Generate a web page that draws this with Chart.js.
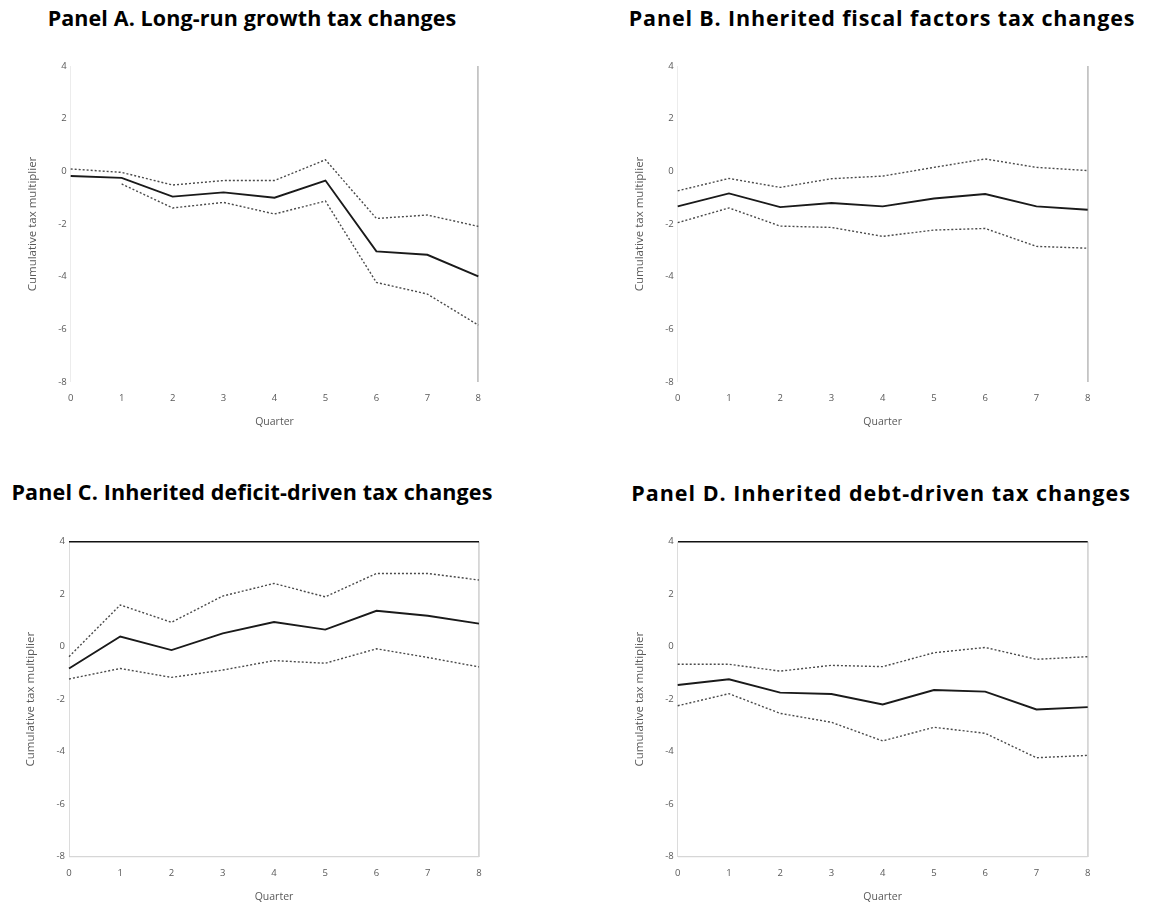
<!DOCTYPE html>
<html>
<head>
<meta charset="utf-8">
<script src="https://cdn.jsdelivr.net/npm/chart.js@4/dist/chart.umd.min.js"></script>
<style>
  body { margin: 0; background: #fff; width: 1162px; height: 907px; position: relative; overflow: hidden; }
  .ttl { position: absolute; font-family: "Open Sans", sans-serif; font-weight: 700; font-size: 21.5px; line-height: normal; color: #000; white-space: nowrap; transform: translateX(-50%); }
  canvas { position: absolute; }
</style>
</head>
<body>
<div class="ttl" style="left:252px; top:3px; letter-spacing:0.1px;">Panel A. Long-run growth tax changes</div>
<div class="ttl" style="left:882px; top:3px; letter-spacing:0.85px;">Panel B. Inherited fiscal factors tax changes</div>
<div class="ttl" style="left:252px; top:477px; letter-spacing:0.15px;">Panel C. Inherited deficit-driven tax changes</div>
<div class="ttl" style="left:881px; top:478px; letter-spacing:1px;">Panel D. Inherited debt-driven tax changes</div>

<div style="position:absolute;left:0;top:40px;width:581px;height:400px;"><canvas id="panel-a"></canvas></div>
<div style="position:absolute;left:581px;top:40px;width:581px;height:400px;"><canvas id="panel-b"></canvas></div>
<div style="position:absolute;left:0;top:510px;width:581px;height:397px;"><canvas id="panel-c"></canvas></div>
<div style="position:absolute;left:581px;top:510px;width:581px;height:397px;"><canvas id="panel-d"></canvas></div>

<script>
const quarters = ['0', '1', '2', '3', '4', '5', '6', '7', '8'];
const yTicks = [4, 2, 0, -2, -4, -6, -8];

// Panel A. Long-run growth
const aMid = [-0.18, -0.25, -0.96, -0.80, -1.00, -0.35, -3.04, -3.17, -3.99];
const aUpper = [0.09, -0.04, -0.52, -0.35, -0.35, 0.44, -1.79, -1.66, -2.09];
const aLower = [null, -0.48, -1.39, -1.18, -1.62, -1.13, -4.22, -4.66, -5.84];

// Panel B. Inherited fiscal factors
const bMid = [-1.33, -0.84, -1.36, -1.20, -1.33, -1.03, -0.86, -1.33, -1.46];
const bUpper = [-0.74, -0.27, -0.61, -0.28, -0.18, 0.15, 0.47, 0.15, 0.03];
const bLower = [-1.95, -1.39, -2.08, -2.13, -2.47, -2.23, -2.17, -2.85, -2.92];

// Panel C. Inherited deficit-driven
const cMid = [-0.83, 0.39, -0.13, 0.51, 0.94, 0.65, 1.37, 1.18, 0.88];
const cUpper = [-0.38, 1.59, 0.93, 1.93, 2.41, 1.90, 2.79, 2.79, 2.54];
const cLower = [-1.23, -0.83, -1.17, -0.89, -0.53, -0.63, -0.08, -0.41, -0.77];

// Panel D. Inherited debt-driven
const dMid = [-1.46, -1.24, -1.75, -1.80, -2.20, -1.65, -1.71, -2.39, -2.30];
const dUpper = [-0.67, -0.67, -0.93, -0.71, -0.76, -0.23, -0.03, -0.48, -0.38];
const dLower = [-2.25, -1.79, -2.54, -2.88, -3.59, -3.07, -3.30, -4.23, -4.14];

class Main {
    constructor() {
        // plot area in canvas coords (l, r, t, b), canvas size (w, h), Quarter title gap (q)
        this.drawPanel('panel-a', aMid, aUpper, aLower, false, {l: 70.7, r: 478.3, t: 26, b: 342, w: 581, h: 400, q: 12});
        this.drawPanel('panel-b', bMid, bUpper, bLower, false, {l: 96.7, r: 506.7, t: 26, b: 342, w: 581, h: 400, q: 12});
        this.drawPanel('panel-c', cMid, cUpper, cLower, true, {l: 69, r: 479, t: 31.7, b: 346.7, w: 581, h: 397, q: 3.5});
        this.drawPanel('panel-d', dMid, dUpper, dLower, true, {l: 96.7, r: 506.7, t: 31.7, b: 346.7, w: 581, h: 397, q: 3.5});
    }

    drawPanel(id, mid, upper, lower, boxed, box) {
        const dotted = (data) => ({
            data: data,
            borderColor: '#4a4a4a',
            borderWidth: 1.4,
            borderDash: [2, 2],
            pointRadius: 0,
            fill: false,
            tension: 0,
            spanGaps: false
        });
        new Chart(document.getElementById(id), {
            type: 'line',
            data: {
                labels: quarters,
                datasets: [
                    dotted(upper),
                    dotted(lower),
                    {
                        data: mid,
                        borderColor: '#1a1a1a',
                        borderWidth: 1.9,
                        pointRadius: 0,
                        fill: false,
                        tension: 0
                    }
                ]
            },
            options: {
                responsive: true,
                maintainAspectRatio: false,
                animation: false,
                layout: {
                    padding: {left: 0, top: box.t, right: box.w - box.r, bottom: 0}
                },
                plugins: {
                    legend: {display: false},
                    tooltip: {enabled: false}
                },
                scales: {
                    x: {
                        offset: false,
                        border: {display: false},
                        grid: {
                            drawTicks: false,
                            lineWidth: (ctx) => (ctx.index === 8 ? 1.8 : 1),
                            color: (ctx) => {
                                if (ctx.index === 0) return boxed ? '#dcdcdc' : '#ececec';
                                if (ctx.index === 8) return boxed ? '#d6d6d6' : '#c4c4c4';
                                return 'rgba(0,0,0,0)';
                            }
                        },
                        ticks: {
                            padding: 11,
                            color: '#595959',
                            font: {family: 'Open Sans', size: 9.5}
                        },
                        title: {
                            display: true,
                            text: 'Quarter',
                            color: '#595959',
                            font: {family: 'Open Sans', size: 10.5},
                            padding: {top: 0, bottom: box.q}
                        },
                        afterFit: (scale) => { scale.height = box.h - box.b; }
                    },
                    y: {
                        min: -8,
                        max: 4,
                        border: {display: false},
                        afterBuildTicks: (scale) => { scale.ticks = yTicks.map(v => ({value: v})); },
                        grid: {
                            drawTicks: false,
                            lineWidth: (ctx) => (ctx.tick && ctx.tick.value === 4 ? 1.6 : 1.2),
                            color: (ctx) => {
                                if (!boxed || !ctx.tick) return 'rgba(0,0,0,0)';
                                if (ctx.tick.value === 4) return '#111';
                                if (ctx.tick.value === -8) return '#d6d6d6';
                                return 'rgba(0,0,0,0)';
                            }
                        },
                        ticks: {
                            padding: 4,
                            color: '#595959',
                            font: {family: 'Open Sans', size: 9.5}
                        },
                        title: {
                            display: true,
                            text: 'Cumulative tax multiplier',
                            color: '#595959',
                            font: {family: 'Open Sans', size: 11.5},
                            padding: {top: box.l - 45, bottom: 0}
                        },
                        afterFit: (scale) => { scale.width = box.l; }
                    }
                }
            }
        });
    }
}

window.onload = () => {
    new Main();
}
</script>
</body>
</html>
